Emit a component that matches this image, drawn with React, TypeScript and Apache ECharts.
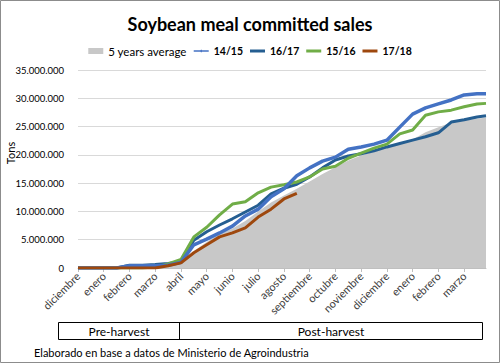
import React, { useEffect, useRef } from "react";
import * as echarts from "echarts";

// x positions in half-months from 1 December (last point = late March)
const xPos = [0, 1, 2, 3, 4, 5, 6, 7, 8, 9, 10, 11, 12, 13, 14, 15, 16, 17, 18, 19, 20, 21, 22, 23, 24, 25, 26, 27, 28, 29, 30, 31, 31.7];
const monthLabels = ["diciembre", "enero", "febrero", "marzo", "abril", "mayo", "junio", "julio", "agosto", "septiembre", "octubre", "noviembre", "diciembre", "enero", "febrero", "marzo"];

// values in million tons
const avg5 = [0, 0, 0, 0, 0, 0, 0, 0.2, 0.8, 3.0, 4.6, 6.0, 7.0, 8.3, 10.0, 11.6, 12.8, 14.0, 15.3, 16.6, 17.8, 19.0, 19.9, 20.6, 21.3, 22.0, 22.7, 24.0, 24.9, 25.7, 26.1, 26.4, 26.6];
const s1415 = [0, 0, 0, 0, 0.4, 0.4, 0.4, 0.5, 1.0, 4.1, 5.1, 6.2, 7.4, 9.2, 10.4, 12.6, 14.0, 16.3, 17.7, 18.9, 19.6, 21.0, 21.4, 21.9, 22.6, 24.9, 27.2, 28.3, 29.0, 29.7, 30.6, 30.8, 30.8];
const s1617 = [0, 0, 0, 0, 0.5, 0.5, 0.6, 0.8, 1.1, 4.9, 6.4, 7.6, 8.7, 9.9, 11.1, 13.1, 14.1, 14.8, 16.1, 17.7, 19.1, 19.8, 20.2, 20.7, 21.4, 22.0, 22.6, 23.2, 23.9, 25.8, 26.2, 26.7, 26.9];
const s1516 = [0, 0, 0, 0, 0, 0, 0.2, 0.7, 1.5, 5.5, 7.2, 9.4, 11.3, 11.7, 13.3, 14.3, 14.7, 15.2, 16.1, 17.5, 18.0, 19.4, 20.3, 21.2, 21.9, 23.7, 24.4, 27.0, 27.6, 27.9, 28.5, 29.0, 29.1];
const s1718 = [0, 0, 0, 0, 0, 0, 0, 0.4, 0.9, 2.7, 4.1, 5.5, 6.2, 7.1, 9.0, 10.4, 12.2, 13.2];

const periods = ["Pre-harvest", "Post-harvest"];

const toPairs = (vals: number[]) => vals.map((v, i) => [xPos[i], v * 1e6]);
const fmt = (v: number) => String(Math.round(v)).replace(/\B(?=(\d{3})+(?!\d))/g, ".");

const FONT = "Lato";
const LINE_ICON = "path://M0,0 L15,0 L15,3 L0,3 Z";
const MARK_ICON = "path://M0,2.3 L15,2.3 L15,3.7 L0,3.7 Z M7.5,1.5 L9,3 L7.5,4.5 L6,3 Z";

export default function App() {
  const ref = useRef<HTMLDivElement>(null);
  useEffect(() => {
    if (!ref.current) return;
    const chart = echarts.init(ref.current, undefined, { renderer: "svg" });
    const lineSeries = (name: string, data: number[], color: string, width = 3) => ({
      name,
      type: "line",
      data: toPairs(data),
      symbol: "none",
      showSymbol: false,
      lineStyle: { color, width },
      itemStyle: { color },
      z: 3,
    });
    chart.setOption({
      animation: false,
      backgroundColor: "#ffffff",
      textStyle: { fontFamily: FONT },
      title: {
        text: "Soybean meal committed sales",
        left: "center",
        top: 10,
        textStyle: { fontFamily: FONT, fontSize: 18, fontWeight: "bold", color: "#000" },
      },
      legend: {
        top: 40,
        left: "center",
        itemWidth: 15,
        itemHeight: 6,
        itemGap: 7,
        symbolKeepAspect: true,
        data: [
          { name: "5 years average", icon: "rect" },
          { name: "14/15", icon: MARK_ICON },
          { name: "16/17", icon: LINE_ICON },
          { name: "15/16", icon: LINE_ICON },
          { name: "17/18", icon: LINE_ICON },
        ],
        textStyle: {
          fontFamily: FONT,
          fontSize: 11.5,
          color: "#000",
          rich: { b: { fontFamily: FONT, fontSize: 10.5, fontWeight: "bold", color: "#000" } },
        },
        formatter: (n: string) => (n === "5 years average" ? n : `{b|${n}}`),
      },
      grid: { left: 78, right: 14, top: 70, bottom: 95, containLabel: false, outerBoundsMode: "none" },
      xAxis: {
        type: "value",
        min: 0,
        max: 31.7,
        interval: 2,
        axisLine: { show: true, lineStyle: { color: "#bfbfbf" } },
        axisTick: { show: true, length: 4, lineStyle: { color: "#bfbfbf" } },
        splitLine: { show: false },
        axisLabel: {
          rotate: 45,
          fontFamily: FONT,
          fontSize: 11,
          color: "#404040",
          margin: 6,
          showMaxLabel: false,
          formatter: (v: number) => (Number.isInteger(v / 2) && monthLabels[v / 2] ? monthLabels[v / 2] : ""),
        },
      },
      yAxis: {
        type: "value",
        min: 0,
        max: 35e6,
        interval: 5e6,
        axisLine: { show: false },
        axisTick: { show: false },
        splitLine: { lineStyle: { color: "#d9d9d9" } },
        axisLabel: { fontFamily: FONT, fontSize: 9.5, color: "#000", margin: 14, formatter: fmt },
      },
      series: [
        {
          name: "5 years average",
          type: "line",
          data: toPairs(avg5),
          symbol: "none",
          lineStyle: { width: 0, color: "#c8c8c8" },
          itemStyle: { color: "#c8c8c8" },
          areaStyle: { color: "#c8c8c8", opacity: 1 },
          z: 1,
        },
        lineSeries("16/17", s1617, "#255e91"),
        lineSeries("15/16", s1516, "#70ad47"),
        lineSeries("14/15", s1415, "#4472c4", 3.5),
        lineSeries("17/18", s1718, "#9e480e"),
      ],
      graphic: [
        { type: "rect", shape: { x: 0.5, y: 0.5, width: 499, height: 362 }, style: { fill: "none", stroke: "#8c8c8c", lineWidth: 1 } },
        { type: "text", x: 10, y: 153, rotation: Math.PI / 2, style: { text: "Tons", fontFamily: FONT, fontSize: 11, fill: "#000", align: "center", verticalAlign: "middle" } },
        { type: "rect", shape: { x: 58.5, y: 322.5, width: 424, height: 17 }, style: { fill: "none", stroke: "#000", lineWidth: 1 } },
        { type: "line", shape: { x1: 179.5, y1: 322.5, x2: 179.5, y2: 339.5 }, style: { stroke: "#000", lineWidth: 1 } },
        { type: "text", x: 119, y: 331, style: { text: periods[0], fontFamily: FONT, fontSize: 12, fill: "#000", align: "center", verticalAlign: "middle" } },
        { type: "text", x: 331, y: 331, style: { text: periods[1], fontFamily: FONT, fontSize: 12, fill: "#000", align: "center", verticalAlign: "middle" } },
        { type: "text", x: 34, y: 352, style: { text: "Elaborado en base a datos de Ministerio de Agroindustria", fontFamily: FONT, fontSize: 11, fill: "#000", align: "left", verticalAlign: "middle" } },
      ],
    });
    return () => chart.dispose();
  }, []);
  return <div ref={ref} style={{ position: "fixed", left: 0, top: 0, width: 500, height: 363 }} />;
}
